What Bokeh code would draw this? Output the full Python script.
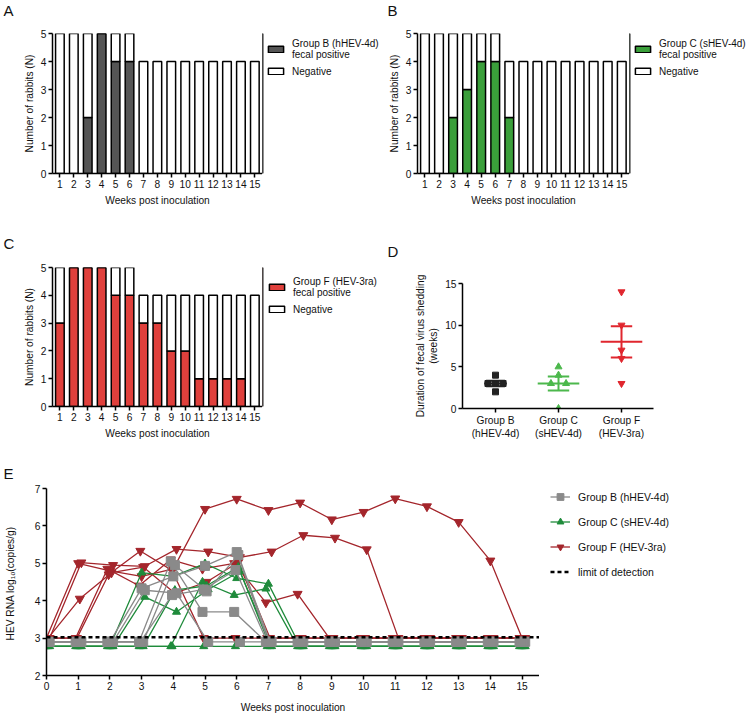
from bokeh.plotting import figure
from bokeh.models import Range1d, Legend, LegendItem, FixedTicker, Label
from bokeh.layouts import column, row
from bokeh.embed import file_html
from bokeh.resources import INLINE
import numpy as np

FONT = "Liberation Sans"
TXT = "#111111"
FS = "10.2px"

# ---------------- data ----------------
WEEKS = list(range(1, 16))
TOTAL_N = [5, 5, 5, 5, 5, 5, 4, 4, 4, 4, 4, 4, 4, 4, 4]
POS_B = [0, 0, 2, 5, 4, 4, 0, 0, 0, 0, 0, 0, 0, 0, 0]
POS_C = [0, 0, 2, 3, 4, 4, 2, 0, 0, 0, 0, 0, 0, 0, 0]
POS_F = [3, 5, 5, 5, 4, 4, 3, 3, 2, 2, 1, 1, 1, 1, 0]

D_GROUPS = ["Group B\n(hHEV-4d)", "Group C\n(sHEV-4d)", "Group F\n(HEV-3ra)"]
DUR_B = [4, 3, 3, 3, 2]
DUR_C = [5, 4, 3, 3, 0]
DUR_F = [14, 10, 7, 6, 3]
SWARM_B = [0, -0.12, 0, 0.12, 0]
SWARM_C = [0, 0, -0.12, 0.12, 0]
SWARM_F = [0, 0, 0, 0, 0]

WEEKS_E = list(range(0, 16))
LOD = 3.02
N = None
RNA_B = [
    [N, N, N, 4.33, 4.65, 4.93, 5.30, N, N, N, N, N, N, N, N, N],
    [N, N, N, 4.28, 4.20, N, N, N, N, N, N, N, N, N, N, N],
    [N, N, N, N, 5.05, 3.70, 3.70, N, N, N, N, N, N, N, N, N],
    [N, N, N, N, 4.95, 4.25, 5.22, N, N, N, N, N, N, N, N, N],
    [N, N, N, N, 4.15, 4.30, 4.82, N, N, N, N, N, N, N, N, N],
]
RNA_C = [
    [N, N, N, 4.75, 4.65, 4.99, 4.60, 4.45, N, N, N, N, N, N, N, N],
    [N, N, N, 4.10, 3.70, 4.30, 4.78, N, N, N, N, N, N, N, N, N],
    [N, N, N, N, N, 4.50, 4.15, 4.32, N, N, N, N, N, N, N, N],
    [N, N, N, N, 4.28, 4.40, 4.90, N, N, N, N, N, N, N, N, N],
    [N, N, N, N, N, N, N, N, N, N, N, N, N, N, N, N],
]
RNA_F = [
    [N, 5.00, 4.80, 4.65, 4.85, 6.45, 6.72, 6.42, 6.62, 6.17, 6.37, 6.73, 6.52, 6.10, 5.07, N],
    [N, 5.02, 4.95, 4.92, 5.38, 5.31, 5.16, 5.31, 5.75, 5.68, 5.37, N, N, N, N, N],
    [N, N, 4.85, 4.40, 5.10, 4.85, 5.00, 3.95, 4.18, N, N, N, N, N, N, N],
    [N, 4.05, 4.75, 4.90, 4.20, 4.50, 5.03, N, N, N, N, N, N, N, N, N],
    [N, N, 4.70, 5.33, 4.81, N, N, N, N, N, N, N, N, N, N, N],
]
ND_B, ND_C, ND_F = 2.90, 2.78, 3.00
JITTER = [0.0, 0.1, -0.08, 0.05, -0.04]

# hidden anchor so legend-only renderers have one (off-range) point to draw a swatch from
HIDDEN = [-9.0]


def style(p):
    p.grid.visible = False
    p.outline_line_color = None
    for ax in p.axis:
        ax.axis_line_width = 1.5
        ax.axis_line_color = "black"
        ax.major_tick_line_width = 1.5
        ax.major_tick_line_color = "black"
        ax.major_tick_out = 4
        ax.major_tick_in = 0
        ax.minor_tick_line_color = None
        ax.major_label_text_font = FONT
        ax.major_label_text_font_size = FS
        ax.major_label_text_color = TXT
        ax.axis_label_text_font = FONT
        ax.axis_label_text_font_size = FS
        ax.axis_label_text_font_style = "normal"
        ax.axis_label_text_color = TXT
        ax.major_label_standoff = 2
        ax.axis_label_standoff = 4


def blank_fig(width, height, bt=0, bb=0):
    f = figure(width=width, height=height, output_backend="svg", toolbar_location=None,
               x_range=Range1d(0, 1), y_range=Range1d(0, 1),
               min_border_left=0, min_border_right=0, min_border_top=bt,
               min_border_bottom=bb)
    f.axis.visible = False
    f.grid.visible = False
    f.outline_line_color = None
    return f


def letter_strip(height, letters):
    f = blank_fig(750, height)
    for text, x, y in letters:
        f.add_layout(Label(x=x, y=y, x_units="screen", y_units="screen", text=text,
                           text_font=FONT, text_font_size="15px", text_color=TXT,
                           text_baseline="alphabetic"))
    return f


def make_legend(items, loc, **kw):
    return Legend(items=items, location=loc, padding=0, margin=0,
                  label_text_font=FONT, label_text_color=TXT,
                  border_line_color=None, background_fill_alpha=0, **kw)


def bar_panel(pos, color, grp, bl, fw, height, bt, bb, lw, legx, legy):
    p = figure(width=bl + fw, height=height, output_backend="svg", toolbar_location=None,
               x_range=Range1d(0.47, 15.55), y_range=Range1d(0, 5),
               min_border_left=bl, min_border_right=0, min_border_top=bt,
               min_border_bottom=bb)
    p.vbar(x=WEEKS, bottom=0, top=pos, width=0.62, fill_color=color,
           line_color="black", line_width=1.5)
    p.vbar(x=WEEKS, bottom=pos, top=TOTAL_N, width=0.62, fill_color="white",
           line_color="black", line_width=1.5)
    style(p)
    p.xaxis.ticker = FixedTicker(ticks=WEEKS)
    p.yaxis.ticker = FixedTicker(ticks=[0, 1, 2, 3, 4, 5])
    p.xaxis.axis_label = "Weeks post inoculation"
    p.yaxis.axis_label = "Number of rabbits (N)"
    p.yaxis.axis_label_standoff = 3

    f = blank_fig(lw, height, bt, bb)
    g1 = f.vbar(x=HIDDEN, top=[1], width=0.5, fill_color=color, line_color="black",
                line_width=1.5)
    g2 = f.vbar(x=HIDDEN, top=[1], width=0.5, fill_color="white", line_color="black",
                line_width=1.5)
    leg = make_legend([LegendItem(label=grp + "\nfecal positive", renderers=[g1]),
                       LegendItem(label="Negative", renderers=[g2])], (legx, legy),
                      spacing=5, glyph_width=19, glyph_height=8, label_standoff=7,
                      label_height=12, label_text_font_size="10px",
                      label_text_line_height=1.3)
    f.add_layout(leg)
    return p, f


pA, lA = bar_panel(POS_B, "#555555", "Group B (hHEV-4d)", 52, 210, 199, 7, 52, 123, 4, 96)
pB, lB = bar_panel(POS_C, "#3a9f3a", "Group C (sHEV-4d)", 32, 212, 199, 7, 52, 121, 4, 96)
pC, lC = bar_panel(POS_F, "#e0403c", "Group F (HEV-3ra)", 52, 210, 180, 6, 34, 123, 5, 91)

# ---------------- panel D ----------------
pD = figure(width=365, height=180, output_backend="svg", toolbar_location=None,
            x_range=Range1d(0.476, 3.508), y_range=Range1d(0, 15),
            min_border_left=77, min_border_right=97, min_border_top=22,
            min_border_bottom=32)
d_sets = [(DUR_B, SWARM_B, "#222222", "square", 6, 0.18, 0.15),
          (DUR_C, SWARM_C, "#4cb84c", "triangle", 7, 0.33, 0.17),
          (DUR_F, SWARM_F, "#e0262e", "inverted_triangle", 7, 0.33, 0.17)]
for i, (vals, sw, col, mk, sz, hw, cw) in enumerate(d_sets):
    xc = i + 1
    pD.scatter([xc + s for s in sw], vals, marker=mk, size=sz, color=col)
    m = float(np.mean(vals))
    sem = float(np.std(vals, ddof=1) / np.sqrt(len(vals)))
    pD.segment(x0=[xc - hw], x1=[xc + hw], y0=[m], y1=[m], line_color=col, line_width=2)
    pD.segment(x0=[xc], x1=[xc], y0=[m - sem], y1=[m + sem], line_color=col, line_width=2)
    pD.segment(x0=[xc - cw, xc - cw], x1=[xc + cw, xc + cw], y0=[m - sem, m + sem],
               y1=[m - sem, m + sem], line_color=col, line_width=2)
style(pD)
pD.xaxis.ticker = FixedTicker(ticks=[1, 2, 3])
pD.xaxis.major_label_overrides = {1: D_GROUPS[0], 2: D_GROUPS[1], 3: D_GROUPS[2]}
pD.yaxis.ticker = FixedTicker(ticks=[0, 5, 10, 15])
pD.yaxis.axis_label = "Duration of fecal virus shedding\n(weeks)"
pD.yaxis.axis_label_standoff = 3

# ---------------- panel E ----------------
pE = figure(width=539, height=234, output_backend="svg", toolbar_location=None,
            x_range=Range1d(0, 15.55), y_range=Range1d(2, 7),
            min_border_left=46, min_border_right=0, min_border_top=6,
            min_border_bottom=41)
e_sets = [("Group F (HEV-3ra)", RNA_F, ND_F, "#a4262c", "inverted_triangle", 9),
          ("Group C (sHEV-4d)", RNA_C, ND_C, "#1f8b3b", "triangle", 8),
          ("Group B (hHEV-4d)", RNA_B, ND_B, "#8a8a8a", "square", 9)]
lE = blank_fig(211, 234, 6, 41)
leg_items = {}
for name, rabbits, nd, col, mk, sz in e_sets:
    for j, vals in enumerate(rabbits):
        xs = [w + JITTER[j] for w in WEEKS_E]
        ys = [nd if v is None else v for v in vals]
        pE.line(xs, ys, line_color=col, line_width=1.3)
        pE.scatter(xs, ys, marker=mk, size=sz, color=col)
    leg_items[name] = [lE.line(HIDDEN * 2, HIDDEN * 2, line_color=col, line_width=1.3),
                       lE.scatter(HIDDEN, HIDDEN, marker=mk, size=sz, color=col)]
pE.line([pE.x_range.start, pE.x_range.end], [LOD, LOD], line_color="black",
        line_width=2.5, line_dash="4 3")
g_lod = lE.line(HIDDEN * 2, HIDDEN * 2, line_color="black", line_width=2.5, line_dash="4 3")
style(pE)
pE.xaxis.ticker = FixedTicker(ticks=WEEKS_E)
pE.yaxis.ticker = FixedTicker(ticks=[2, 3, 4, 5, 6, 7])
pE.xaxis.axis_label = "Weeks post inoculation"
pE.xaxis.axis_label_standoff = 9
pE.yaxis.axis_label = "HEV RNA  log\u2081\u2080(copies/g)"
pE.yaxis.axis_label_standoff = 16
legE = make_legend([LegendItem(label="Group B (hHEV-4d)", renderers=leg_items["Group B (hHEV-4d)"]),
                    LegendItem(label="Group C (sHEV-4d)", renderers=leg_items["Group C (sHEV-4d)"]),
                    LegendItem(label="Group F (HEV-3ra)", renderers=leg_items["Group F (HEV-3ra)"]),
                    LegendItem(label="limit of detection", renderers=[g_lod])],
                   (11, 95), spacing=8, glyph_width=20, glyph_height=17,
                   label_standoff=8, label_height=17, label_text_font_size="10.5px")
lE.add_layout(legE)

# ---------------- panel letters ----------------
s1 = letter_strip(26, [("A", 3, 16), ("B", 387, 16)])
s2 = letter_strip(36, [("C", 3, 18), ("D", 387, 10)])
s3 = letter_strip(41, [("E", 3, 9)])

layout = column(row(s1), row(pA, lA, pB, lB), row(s2), row(pC, lC, column(pD)),
                row(s3), row(pE, lE))
open("out.html", "w").write(file_html(layout, INLINE))
